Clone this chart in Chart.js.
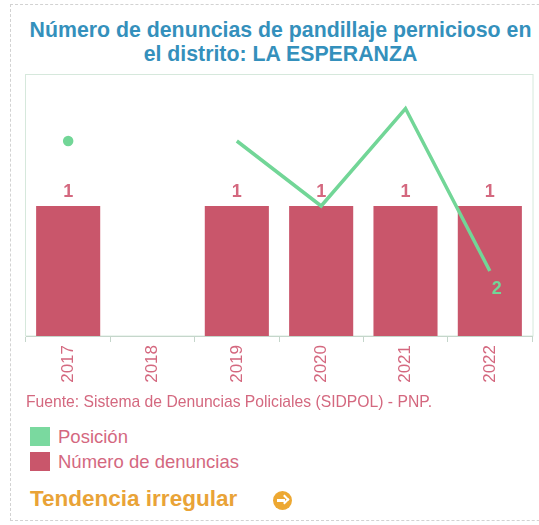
<!DOCTYPE html>
<html>
<head>
<meta charset="utf-8">
<script src="https://cdn.jsdelivr.net/npm/chart.js@4"></script>
<style>
  html, body { margin: 0; padding: 0; background: #fff; }
  #wrap { position: relative; width: 539px; height: 525px; overflow: hidden; font-family: "Liberation Sans", Arial, sans-serif; }
  #frame { position: absolute; left: 10px; top: 4px; width: 600px; height: 517px; border: 1px dashed #d2d2d2; box-sizing: border-box; }
  #title { position: absolute; left: 0; top: 18px; width: 561px; text-align: center; color: #3490bc; font-weight: bold; font-size: 21.3px; line-height: 24px; }
  #cbox { position: absolute; left: 0; top: 0; width: 539px; height: 400px; }
  #fuente { position: absolute; left: 26px; top: 393px; font-size: 15.7px; color: #d4687f; white-space: nowrap; }
  .leg { position: absolute; left: 30px; height: 20px; font-size: 18.5px; color: #d4687f; white-space: nowrap; }
  .leg span.box { display: inline-block; width: 20px; height: 19px; vertical-align: top; margin-right: 8px; }
  .leg span.txt { line-height: 19px; vertical-align: top; }
  #tend { position: absolute; left: 30px; top: 486px; font-weight: bold; font-size: 22.5px; color: #e9a337; white-space: nowrap; }
  #icon { position: absolute; left: 273px; top: 491px; width: 19px; height: 19px; border-radius: 50%; background: #eda832; }
  #icon::before { content: ""; position: absolute; left: 4px; top: 8px; width: 8px; height: 3px; background: #fff; }
  #icon::after { content: ""; position: absolute; left: 8px; top: 5px; width: 5px; height: 5px; border-top: 2.5px solid #fff; border-right: 2.5px solid #fff; transform: rotate(45deg); }
</style>
</head>
<body>
<div id="wrap">
  <div id="frame"></div>
  <div id="title">Número de denuncias de pandillaje pernicioso en<br>el distrito: LA ESPERANZA</div>
  <div id="cbox"><canvas id="c" width="539" height="400"></canvas></div>
  <div id="fuente">Fuente: Sistema de Denuncias Policiales (SIDPOL) - PNP.</div>
  <div id="legend"></div>
  <div id="tend">Tendencia irregular</div>
  <span id="icon"></span>
</div>
<script>
const years = ["2017", "2018", "2019", "2020", "2021", "2022"];
const denuncias = [1, null, 1, 1, 1, 1];
const posicion = [6, null, 6, 4, 7, 2];
const seriesNames = ["Posición", "Número de denuncias"];

const ROSE = "#c9566b";
const ROSE_TEXT = "#d4687f";
const GREEN = "#72d697";

const framePlugin = {
  id: "frame",
  beforeDraw(chart) {
    const a = chart.chartArea, ctx = chart.ctx;
    ctx.save();
    ctx.strokeStyle = "#d6e8dc";
    ctx.lineWidth = 1;
    ctx.strokeRect(a.left - 0.5, a.top - 1.5, a.right - a.left + 1.5, a.bottom - a.top + 1.5);
    ctx.restore();
  }
};

const labelPlugin = {
  id: "vlabels",
  afterDatasetsDraw(chart) {
    const ctx = chart.ctx;
    ctx.save();
    ctx.textAlign = "center";
    ctx.textBaseline = "middle";
    ctx.font = "bold 18px 'Liberation Sans', Arial, sans-serif";
    const barMeta = chart.getDatasetMeta(1);
    barMeta.data.forEach((el, i) => {
      const v = denuncias[i];
      if (v === null || v === undefined) return;
      ctx.fillStyle = ROSE_TEXT;
      ctx.fillText(String(v), el.x, el.y - 14);
    });
    const lineMeta = chart.getDatasetMeta(0);
    const last = posicion.length - 1;
    const p = lineMeta.data[last];
    if (p && posicion[last] !== null) {
      ctx.fillStyle = GREEN;
      ctx.fillText(String(posicion[last]), p.x + 7, p.y + 18);
    }
    ctx.restore();
  }
};

new Chart(document.getElementById("c"), {
  data: {
    labels: years,
    datasets: [
      {
        type: "line",
        label: seriesNames[0],
        data: posicion,
        yAxisID: "y2",
        borderColor: GREEN,
        backgroundColor: GREEN,
        borderWidth: 3.5,
        spanGaps: false,
        tension: 0,
        pointRadius: (c) => {
          const i = c.dataIndex, d = c.dataset.data;
          const prev = i > 0 ? d[i - 1] : null;
          const next = i < d.length - 1 ? d[i + 1] : null;
          return (d[i] !== null && prev === null && next === null) ? 3.5 : 0;
        },
        pointHoverRadius: 0,
        order: 0
      },
      {
        type: "bar",
        label: seriesNames[1],
        data: denuncias,
        yAxisID: "y",
        backgroundColor: ROSE,
        borderWidth: 0,
        barPercentage: 0.76,
        categoryPercentage: 1.0,
        order: 1
      }
    ]
  },
  options: {
    responsive: false,
    animation: false,
    devicePixelRatio: 1,
    layout: { padding: { left: 26, right: 6, top: 76, bottom: 0 } },
    plugins: { legend: { display: false }, tooltip: { enabled: false }, title: { display: false } },
    scales: {
      x: {
        offset: true,
        grid: { display: true, drawOnChartArea: false, tickLength: 6, color: "#c5d6cb", offset: true },
        border: { display: true, color: "#c5d6cb" },
        ticks: {
          color: ROSE_TEXT,
          font: { family: "'Liberation Sans', Arial, sans-serif", size: 17 },
          minRotation: 90, maxRotation: 90, padding: 3
        },
        afterFit(s) { s.height = 64; }
      },
      y: { display: false, min: 0, max: 2 },
      y2: { display: false, min: 0, max: 8 }
    }
  },
  plugins: [framePlugin, labelPlugin]
});

const legendItems = [
  { name: seriesNames[0], color: "#7ad99f", top: 427 },
  { name: seriesNames[1], color: ROSE, top: 452 }
];
const lg = document.getElementById("legend");
legendItems.forEach(it => {
  const d = document.createElement("div");
  d.className = "leg";
  d.style.top = it.top + "px";
  d.innerHTML = '<span class="box" style="background:' + it.color + '"></span><span class="txt">' + it.name + '</span>';
  lg.appendChild(d);
});
</script>
</body>
</html>
